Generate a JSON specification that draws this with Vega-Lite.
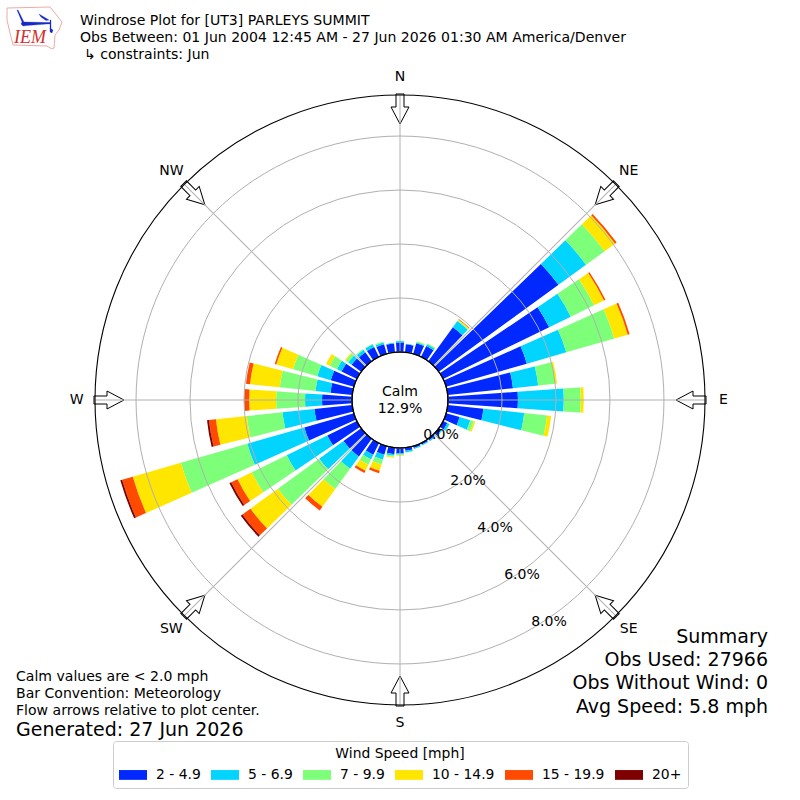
{
"$schema":"https://vega.github.io/schema/vega-lite/v6.json",
"width":800,"height":800,"padding":0,
"autosize":{"type":"fit","contains":"padding"},
"background":"white",
"config":{"view":{"stroke":null},"text":{"font":"DejaVu Sans","fontSize":14.05,"color":"#000000"}},
"datasets":{
"rose":[
{"dir":0,"bin":1,"speed":"2 - 4.9","pct":0.356},{"dir":0,"bin":2,"speed":"5 - 6.9","pct":0.052},{"dir":0,"bin":3,"speed":"7 - 9.9","pct":0.011},
{"dir":10,"bin":1,"speed":"2 - 4.9","pct":0.296},{"dir":10,"bin":2,"speed":"5 - 6.9","pct":0.019},
{"dir":20,"bin":1,"speed":"2 - 4.9","pct":0.407},{"dir":20,"bin":2,"speed":"5 - 6.9","pct":0.037},{"dir":20,"bin":3,"speed":"7 - 9.9","pct":0.037},{"dir":20,"bin":4,"speed":"10 - 14.9","pct":0.011},
{"dir":30,"bin":1,"speed":"2 - 4.9","pct":0.444},{"dir":30,"bin":2,"speed":"5 - 6.9","pct":0.074},{"dir":30,"bin":3,"speed":"7 - 9.9","pct":0.037},{"dir":30,"bin":4,"speed":"10 - 14.9","pct":0.011},
{"dir":40,"bin":1,"speed":"2 - 4.9","pct":1.556},{"dir":40,"bin":2,"speed":"5 - 6.9","pct":0.278},{"dir":40,"bin":3,"speed":"7 - 9.9","pct":0.037},{"dir":40,"bin":4,"speed":"10 - 14.9","pct":0.037},{"dir":40,"bin":5,"speed":"15 - 19.9","pct":0.019},
{"dir":50,"bin":1,"speed":"2 - 4.9","pct":5.48},{"dir":50,"bin":2,"speed":"5 - 6.9","pct":1.26},{"dir":50,"bin":3,"speed":"7 - 9.9","pct":0.85},{"dir":50,"bin":4,"speed":"10 - 14.9","pct":0.48},{"dir":50,"bin":5,"speed":"15 - 19.9","pct":0.07},
{"dir":60,"bin":1,"speed":"2 - 4.9","pct":4.37},{"dir":60,"bin":2,"speed":"5 - 6.9","pct":0.89},{"dir":60,"bin":3,"speed":"7 - 9.9","pct":0.96},{"dir":60,"bin":4,"speed":"10 - 14.9","pct":0.41},{"dir":60,"bin":5,"speed":"15 - 19.9","pct":0.06},
{"dir":70,"bin":1,"speed":"2 - 4.9","pct":3.11},{"dir":70,"bin":2,"speed":"5 - 6.9","pct":1.52},{"dir":70,"bin":3,"speed":"7 - 9.9","pct":1.85},{"dir":70,"bin":4,"speed":"10 - 14.9","pct":0.52},{"dir":70,"bin":5,"speed":"15 - 19.9","pct":0.07},
{"dir":80,"bin":1,"speed":"2 - 4.9","pct":2.43},{"dir":80,"bin":2,"speed":"5 - 6.9","pct":0.94},{"dir":80,"bin":3,"speed":"7 - 9.9","pct":0.63},{"dir":80,"bin":4,"speed":"10 - 14.9","pct":0.07},
{"dir":90,"bin":1,"speed":"2 - 4.9","pct":2.59},{"dir":90,"bin":2,"speed":"5 - 6.9","pct":1.7},{"dir":90,"bin":3,"speed":"7 - 9.9","pct":0.63},{"dir":90,"bin":4,"speed":"10 - 14.9","pct":0.11},
{"dir":100,"bin":1,"speed":"2 - 4.9","pct":1.33},{"dir":100,"bin":2,"speed":"5 - 6.9","pct":1.52},{"dir":100,"bin":3,"speed":"7 - 9.9","pct":0.85},{"dir":100,"bin":4,"speed":"10 - 14.9","pct":0.15},
{"dir":110,"bin":1,"speed":"2 - 4.9","pct":0.52},{"dir":110,"bin":2,"speed":"5 - 6.9","pct":0.41},{"dir":110,"bin":3,"speed":"7 - 9.9","pct":0.13},{"dir":110,"bin":4,"speed":"10 - 14.9","pct":0.06},
{"dir":120,"bin":1,"speed":"2 - 4.9","pct":0.17},{"dir":120,"bin":2,"speed":"5 - 6.9","pct":0.09},{"dir":120,"bin":3,"speed":"7 - 9.9","pct":0.02},
{"dir":130,"bin":1,"speed":"2 - 4.9","pct":0.11},{"dir":130,"bin":2,"speed":"5 - 6.9","pct":0.04},
{"dir":140,"bin":1,"speed":"2 - 4.9","pct":0.07},{"dir":140,"bin":2,"speed":"5 - 6.9","pct":0.04},
{"dir":150,"bin":1,"speed":"2 - 4.9","pct":0.06},{"dir":150,"bin":2,"speed":"5 - 6.9","pct":0.04},
{"dir":160,"bin":1,"speed":"2 - 4.9","pct":0.07},{"dir":160,"bin":2,"speed":"5 - 6.9","pct":0.04},
{"dir":170,"bin":1,"speed":"2 - 4.9","pct":0.11},{"dir":170,"bin":2,"speed":"5 - 6.9","pct":0.06},{"dir":170,"bin":3,"speed":"7 - 9.9","pct":0.02},
{"dir":180,"bin":1,"speed":"2 - 4.9","pct":0.19},{"dir":180,"bin":2,"speed":"5 - 6.9","pct":0.04},{"dir":180,"bin":3,"speed":"7 - 9.9","pct":0.04},{"dir":180,"bin":4,"speed":"10 - 14.9","pct":0.02},
{"dir":190,"bin":1,"speed":"2 - 4.9","pct":0.24},{"dir":190,"bin":2,"speed":"5 - 6.9","pct":0.06},{"dir":190,"bin":3,"speed":"7 - 9.9","pct":0.04},{"dir":190,"bin":4,"speed":"10 - 14.9","pct":0.04},
{"dir":200,"bin":1,"speed":"2 - 4.9","pct":0.33},{"dir":200,"bin":2,"speed":"5 - 6.9","pct":0.19},{"dir":200,"bin":3,"speed":"7 - 9.9","pct":0.19},{"dir":200,"bin":4,"speed":"10 - 14.9","pct":0.24},{"dir":200,"bin":5,"speed":"15 - 19.9","pct":0.09},
{"dir":210,"bin":1,"speed":"2 - 4.9","pct":0.48},{"dir":210,"bin":2,"speed":"5 - 6.9","pct":0.19},{"dir":210,"bin":3,"speed":"7 - 9.9","pct":0.22},{"dir":210,"bin":4,"speed":"10 - 14.9","pct":0.25},{"dir":210,"bin":5,"speed":"15 - 19.9","pct":0.09},
{"dir":220,"bin":1,"speed":"2 - 4.9","pct":0.81},{"dir":220,"bin":2,"speed":"5 - 6.9","pct":0.56},{"dir":220,"bin":3,"speed":"7 - 9.9","pct":0.93},{"dir":220,"bin":4,"speed":"10 - 14.9","pct":0.81},{"dir":220,"bin":5,"speed":"15 - 19.9","pct":0.17},
{"dir":230,"bin":1,"speed":"2 - 4.9","pct":0.81},{"dir":230,"bin":2,"speed":"5 - 6.9","pct":1.11},{"dir":230,"bin":3,"speed":"7 - 9.9","pct":1.89},{"dir":230,"bin":4,"speed":"10 - 14.9","pct":1.26},{"dir":230,"bin":5,"speed":"15 - 19.9","pct":0.37},{"dir":230,"bin":6,"speed":"20+","pct":0.07},
{"dir":240,"bin":1,"speed":"2 - 4.9","pct":1.22},{"dir":240,"bin":2,"speed":"5 - 6.9","pct":1.67},{"dir":240,"bin":3,"speed":"7 - 9.9","pct":1.44},{"dir":240,"bin":4,"speed":"10 - 14.9","pct":0.59},{"dir":240,"bin":5,"speed":"15 - 19.9","pct":0.26},{"dir":240,"bin":6,"speed":"20+","pct":0.07},
{"dir":250,"bin":1,"speed":"2 - 4.9","pct":1.91},{"dir":250,"bin":2,"speed":"5 - 6.9","pct":2.2},{"dir":250,"bin":3,"speed":"7 - 9.9","pct":2.56},{"dir":250,"bin":4,"speed":"10 - 14.9","pct":1.85},{"dir":250,"bin":5,"speed":"15 - 19.9","pct":0.41},{"dir":250,"bin":6,"speed":"20+","pct":0.07},
{"dir":260,"bin":1,"speed":"2 - 4.9","pct":1.41},{"dir":260,"bin":2,"speed":"5 - 6.9","pct":1.19},{"dir":260,"bin":3,"speed":"7 - 9.9","pct":1.33},{"dir":260,"bin":4,"speed":"10 - 14.9","pct":1.15},{"dir":260,"bin":5,"speed":"15 - 19.9","pct":0.26},{"dir":260,"bin":6,"speed":"20+","pct":0.07},
{"dir":270,"bin":1,"speed":"2 - 4.9","pct":1.11},{"dir":270,"bin":2,"speed":"5 - 6.9","pct":0.63},{"dir":270,"bin":3,"speed":"7 - 9.9","pct":1.07},{"dir":270,"bin":4,"speed":"10 - 14.9","pct":1.0},{"dir":270,"bin":5,"speed":"15 - 19.9","pct":0.19},
{"dir":280,"bin":1,"speed":"2 - 4.9","pct":0.81},{"dir":280,"bin":2,"speed":"5 - 6.9","pct":0.56},{"dir":280,"bin":3,"speed":"7 - 9.9","pct":1.33},{"dir":280,"bin":4,"speed":"10 - 14.9","pct":1.11},{"dir":280,"bin":5,"speed":"15 - 19.9","pct":0.15},
{"dir":290,"bin":1,"speed":"2 - 4.9","pct":0.89},{"dir":290,"bin":2,"speed":"5 - 6.9","pct":0.52},{"dir":290,"bin":3,"speed":"7 - 9.9","pct":0.93},{"dir":290,"bin":4,"speed":"10 - 14.9","pct":0.65},{"dir":290,"bin":5,"speed":"15 - 19.9","pct":0.06},
{"dir":300,"bin":1,"speed":"2 - 4.9","pct":0.63},{"dir":300,"bin":2,"speed":"5 - 6.9","pct":0.19},{"dir":300,"bin":3,"speed":"7 - 9.9","pct":0.3},{"dir":300,"bin":4,"speed":"10 - 14.9","pct":0.15},
{"dir":310,"bin":1,"speed":"2 - 4.9","pct":0.44},{"dir":310,"bin":2,"speed":"5 - 6.9","pct":0.15},{"dir":310,"bin":3,"speed":"7 - 9.9","pct":0.11},{"dir":310,"bin":4,"speed":"10 - 14.9","pct":0.04},
{"dir":320,"bin":1,"speed":"2 - 4.9","pct":0.41},{"dir":320,"bin":2,"speed":"5 - 6.9","pct":0.11},{"dir":320,"bin":3,"speed":"7 - 9.9","pct":0.04},
{"dir":330,"bin":1,"speed":"2 - 4.9","pct":0.41},{"dir":330,"bin":2,"speed":"5 - 6.9","pct":0.11},{"dir":330,"bin":3,"speed":"7 - 9.9","pct":0.02},
{"dir":340,"bin":1,"speed":"2 - 4.9","pct":0.37},{"dir":340,"bin":2,"speed":"5 - 6.9","pct":0.07},{"dir":340,"bin":3,"speed":"7 - 9.9","pct":0.04},
{"dir":350,"bin":1,"speed":"2 - 4.9","pct":0.33},{"dir":350,"bin":2,"speed":"5 - 6.9","pct":0.02}
],
"compass":[{"name":"N","deg":0,"labelPct":10.2},{"name":"NE","deg":45,"labelPct":10.2},{"name":"E","deg":90,"labelPct":10.2},{"name":"SE","deg":135,"labelPct":10.2},{"name":"S","deg":180,"labelPct":10.2},{"name":"SW","deg":225,"labelPct":10.2},{"name":"W","deg":270,"labelPct":10.2},{"name":"NW","deg":315,"labelPct":10.2}]
},
"layer":[
{"data":{"name":"rose"},
 "mark":{"type":"arc"},
 "encoding":{
  "theta":{"field":"dir","type":"ordinal","scale":{"type":"band","domain":[0,10,20,30,40,50,60,70,80,90,100,110,120,130,140,150,160,170,180,190,200,210,220,230,240,250,260,270,280,290,300,310,320,330,340,350],"range":[-0.08727,6.19592],"paddingInner":0.2,"paddingOuter":0.1}},
  "radius":{"field":"pct","type":"quantitative","stack":"zero","scale":{"type":"linear","domain":[0,9.52],"range":[48,305],"zero":false,"nice":false}},
  "color":{"field":"speed","type":"nominal","scale":{"domain":["2 - 4.9","5 - 6.9","7 - 9.9","10 - 14.9","15 - 19.9","20+"],"range":["#0028ff","#00d4ff","#7dff7a","#ffe600","#ff4a00","#7f0000"]},
   "legend":{"title":"Wind Speed [mph]","orient":"none","legendX":113,"legendY":741,"columns":6,"direction":"horizontal","columnPadding":10,"rowPadding":4,"padding":6,"titleAnchor":"middle","titleAlign":"center","titleFont":"DejaVu Sans","titleFontSize":13.9,"titleFontWeight":"normal","titleColor":"#000000","titlePadding":0,"labelFont":"DejaVu Sans","labelFontSize":13.9,"labelColor":"#000000","labelOffset":9,"symbolType":"M-1,-0.35H1V0.35H-1Z","symbolSize":784,"symbolStrokeWidth":0,"symbolOpacity":1,"fillColor":"#ffffff","strokeColor":"#cccccc","cornerRadius":3}},
  "order":{"field":"bin","type":"quantitative"}
 }},
{"data":{"values":[{"pct":2},{"pct":4},{"pct":6},{"pct":8}]},
 "mark":{"type":"arc","theta":0,"theta2":6.2832,"filled":false,"fill":null,"stroke":"#b0b0b0","strokeWidth":1},
 "encoding":{"radius":{"field":"pct","type":"quantitative","stack":null,"scale":{"type":"linear","domain":[0,9.52],"range":[48,305],"zero":false,"nice":false}}}},
{"data":{"name":"compass"},
 "mark":{"type":"point","shape":"M-4,-306H4V-293H9L0,-276L-9,-293H-4Z","size":4,"filled":true,"fill":"#ffffff","fillOpacity":1,"stroke":"#000000","strokeWidth":1,"opacity":1},
 "encoding":{"angle":{"field":"deg","type":"quantitative","scale":{"domain":[0,360],"range":[0,360]}}}},
{"data":{"name":"compass"},
 "mark":{"type":"point","shape":"M0,-48V-305","size":4,"filled":false,"stroke":"#b0b0b0","strokeWidth":1,"opacity":1},
 "encoding":{"angle":{"field":"deg","type":"quantitative","scale":{"domain":[0,360],"range":[0,360]}}}},
{"data":{"values":[{"pct":0}]},
 "mark":{"type":"arc","theta":0,"theta2":6.2832,"fill":"#ffffff","stroke":"#000000","strokeWidth":1.2},
 "encoding":{"radius":{"field":"pct","type":"quantitative","stack":null,"scale":{"type":"linear","domain":[0,9.52],"range":[48,305],"zero":false,"nice":false}}}},
{"data":{"values":[{"pct":9.52}]},
 "mark":{"type":"arc","theta":0,"theta2":6.2832,"filled":false,"fill":null,"stroke":"#000000","strokeWidth":1.1},
 "encoding":{"radius":{"field":"pct","type":"quantitative","stack":null,"scale":{"type":"linear","domain":[0,9.52],"range":[48,305],"zero":false,"nice":false}}}},
{"data":{"name":"compass"},
 "mark":{"type":"text","align":"center","baseline":"middle"},
 "encoding":{
  "theta":{"field":"deg","type":"quantitative","stack":null,"scale":{"type":"linear","domain":[0,360],"range":[0,6.28318]}},
  "radius":{"field":"labelPct","type":"quantitative","stack":null,"scale":{"type":"linear","domain":[0,9.52],"range":[48,305],"zero":false,"nice":false}},
  "text":{"field":"name"}}},
{"data":{"values":[{"pct":0,"label":"0.0%","deg":150},{"pct":2,"label":"2.0%","deg":150},{"pct":4,"label":"4.0%","deg":150},{"pct":6,"label":"6.0%","deg":150},{"pct":8,"label":"8.0%","deg":150}]},
 "mark":{"type":"text","align":"center","baseline":"middle","dx":17,"dy":-7},
 "encoding":{
  "theta":{"field":"deg","type":"quantitative","stack":null,"scale":{"type":"linear","domain":[0,360],"range":[0,6.28318]}},
  "radius":{"field":"pct","type":"quantitative","stack":null,"scale":{"type":"linear","domain":[0,9.52],"range":[48,305],"zero":false,"nice":false}},
  "text":{"field":"label"}}},
{"data":{"values":[{}]},"mark":{"type":"text","x":400,"y":392,"align":"center","baseline":"middle","lineHeight":17,"text":["Calm","12.9%"]}},
{"data":{"values":[{}]},"mark":{"type":"text","x":80,"y":21,"align":"left","baseline":"middle","text":"Windrose Plot for [UT3] PARLEYS SUMMIT"}},
{"data":{"values":[{}]},"mark":{"type":"text","x":80,"y":38,"align":"left","baseline":"middle","text":"Obs Between: 01 Jun 2004 12:45 AM - 27 Jun 2026 01:30 AM America/Denver"}},
{"data":{"values":[{}]},"mark":{"type":"text","x":84,"y":55,"align":"left","baseline":"middle","text":"↳ constraints: Jun"}},
{"data":{"values":[{}]},"mark":{"type":"text","x":16,"y":677,"align":"left","baseline":"middle","text":"Calm values are < 2.0 mph"}},
{"data":{"values":[{}]},"mark":{"type":"text","x":16,"y":694,"align":"left","baseline":"middle","text":"Bar Convention: Meteorology"}},
{"data":{"values":[{}]},"mark":{"type":"text","x":16,"y":711,"align":"left","baseline":"middle","text":"Flow arrows relative to plot center."}},
{"data":{"values":[{}]},"mark":{"type":"text","x":16,"y":730,"align":"left","baseline":"middle","fontSize":19,"text":"Generated: 27 Jun 2026"}},
{"data":{"values":[{}]},"mark":{"type":"text","x":768,"y":637,"align":"right","baseline":"middle","fontSize":19,"text":"Summary"}},
{"data":{"values":[{}]},"mark":{"type":"text","x":768,"y":660,"align":"right","baseline":"middle","fontSize":19,"text":"Obs Used: 27966"}},
{"data":{"values":[{}]},"mark":{"type":"text","x":768,"y":683,"align":"right","baseline":"middle","fontSize":19,"text":"Obs Without Wind: 0"}},
{"data":{"values":[{}]},"mark":{"type":"text","x":768,"y":707,"align":"right","baseline":"middle","fontSize":19,"text":"Avg Speed: 5.8 mph"}},
{"data":{"values":[{}]},"mark":{"type":"point","x":0,"y":0,"size":4,"shape":"M7,8L50,7L55,13L62,22L59,30L55,35L54,48L52,49L47,46L13,45L10,33L7,20Z","filled":false,"stroke":"#eeaaaa","strokeWidth":1,"opacity":1}},
{"data":{"values":[{}]},"mark":{"type":"point","x":0,"y":0,"size":4,"shape":"M17,10L18,10L24,22L50,22.5L50,23.8L27,25.5L23,26L21,24L22,22ZM39,14L49,20L46,20.5L41,17ZM50,20H51V29H50ZM50,28L53,30L52,33L50,32Z","filled":true,"fill":"#1828c8","stroke":"#1828c8","strokeWidth":0.3,"opacity":1}},
{"data":{"values":[{}]},"mark":{"type":"text","x":30,"y":38,"align":"center","baseline":"middle","font":"Liberation Serif","fontStyle":"italic","fontSize":18,"color":"#d03030","text":"IEM"}}
],
"resolve":{"scale":{"theta":"independent"}}
}
